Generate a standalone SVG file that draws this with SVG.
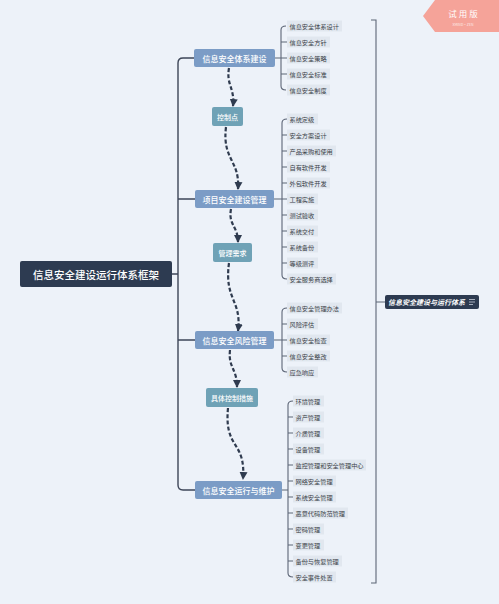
<svg xmlns="http://www.w3.org/2000/svg" width="499" height="604" viewBox="0 0 499 604">
<defs>
<marker id="ah" markerUnits="userSpaceOnUse" markerWidth="9" markerHeight="9" refX="7" refY="4.5" orient="auto">
<path d="M0,0.5 L8,4.5 L0,8.5 z" fill="#2f3b4f"/>
</marker>
<style>
text{font-family:"Noto Sans CJK SC","Noto Sans",sans-serif;}
.main rect{fill:#7b9cc6;}
.main text{fill:#fff;font-size:8px;font-weight:500;text-anchor:middle;dominant-baseline:central;}
.mid rect{fill:#6fa2b6;}
.mid text{fill:#fff;font-size:7px;font-weight:500;text-anchor:middle;dominant-baseline:central;}
.leaf rect{fill:#e1e7ef;}
.leaf text{fill:#3a3f48;font-size:6.2px;dominant-baseline:central;}
.ln{fill:none;stroke:#3d4658;stroke-width:1.4;}
.br{fill:none;stroke:#5d6677;stroke-width:1.1;}
.dash{fill:none;stroke:#2f3b4f;stroke-width:2.2;stroke-dasharray:4 2.2;marker-end:url(#ah);}
</style>
</defs>
<rect width="499" height="604" fill="#edf2f9"/>

<g id="connectors">
<path class="ln" d="M172,274 H178 M194,58 H183 Q178,58 178,63 V485 Q178,490 183,490 H195 M178,199 H195 M178,340 H195"/>
<path class="br" d="M275,58 H281 M286,26 Q281,26 281,30 V86 Q281,90 286,90 M281,42 H287 M281,58 H287 M281,74 H287"/>
<path class="br" d="M274,199 H282 M287,119 Q282,119 282,123 V275 Q282,279 287,279 M282,135 H287 M282,151 H287 M282,167 H287 M282,183 H287 M282,199 H287 M282,215 H287 M282,231 H287 M282,247 H287 M282,263 H287"/>
<path class="br" d="M274,340 H282 M287,308 Q282,308 282,312 V368 Q282,372 287,372 M282,324 H287 M282,340 H287 M282,356 H287"/>
<path class="br" d="M282,490 H288 M293,401 Q288,401 288,405 V573 Q288,577 293,577 M288,417 H293 M288,433 H293 M288,449 H293 M288,465 H293 M288,481 H293 M288,497 H293 M288,513 H293 M288,529 H293 M288,545 H293 M288,561 H293"/>
<path class="br" d="M371,20 H376 V583 H371 M376,302 H385" stroke-width="1.3"/>
<path class="dash" d="M229,68 C226,85 235,88 233,106"/>
<path class="dash" d="M226,127 C222,160 240,160 238,189"/>
<path class="dash" d="M231,209 C228,225 238,226 238,242"/>
<path class="dash" d="M229,263 C224,300 242,300 238,331"/>
<path class="dash" d="M230,350 C228,368 237,368 237,387"/>
<path class="dash" d="M228,408 C224,450 246,440 243,479"/>
</g>

<g id="root">
<rect x="20" y="261" width="152" height="26" rx="2" fill="#2d3b51"/>
<text x="96" y="274" fill="#fff" font-size="10.5" font-weight="500" text-anchor="middle" dominant-baseline="central">信息安全建设运行体系框架</text>
</g>

<g id="n1" class="main"><rect x="194" y="49" width="81" height="18" rx="2"/><text x="234.5" y="58">信息安全体系建设</text></g>
<g id="n2" class="main"><rect x="195" y="190" width="79" height="18" rx="2"/><text x="234.5" y="199">项目安全建设管理</text></g>
<g id="n3" class="main"><rect x="195" y="331" width="79" height="18" rx="2"/><text x="234.5" y="340">信息安全风险管理</text></g>
<g id="n4" class="main"><rect x="195" y="481" width="87" height="18" rx="2"/><text x="238.5" y="490">信息安全运行与维护</text></g>

<g id="m1" class="mid"><rect x="212" y="107" width="31" height="19" rx="2"/><text x="227.5" y="116.5">控制点</text></g>
<g id="m2" class="mid"><rect x="213" y="243" width="39" height="19" rx="2"/><text x="232.5" y="252.5">管理需求</text></g>
<g id="m3" class="mid"><rect x="206" y="388" width="52" height="19" rx="2"/><text x="232" y="397.5">具体控制措施</text></g>

<g id="g1" class="leaf">
<g id="l1a"><rect x="287" y="20.5" width="55" height="11"/><text x="289.5" y="26">信息安全体系设计</text></g>
<g id="l1b"><rect x="287" y="36.5" width="43" height="11"/><text x="289.5" y="42">信息安全方针</text></g>
<g id="l1c"><rect x="287" y="52.5" width="43" height="11"/><text x="289.5" y="58">信息安全策略</text></g>
<g id="l1d"><rect x="287" y="68.5" width="43" height="11"/><text x="289.5" y="74">信息安全标准</text></g>
<g id="l1e"><rect x="287" y="84.5" width="43" height="11"/><text x="289.5" y="90">信息安全制度</text></g>
</g>

<g id="g2" class="leaf">
<g id="l2a"><rect x="287" y="113.5" width="31" height="11"/><text x="289.5" y="119">系统定级</text></g>
<g id="l2b"><rect x="287" y="129.5" width="43" height="11"/><text x="289.5" y="135">安全方案设计</text></g>
<g id="l2c"><rect x="287" y="145.5" width="49" height="11"/><text x="289.5" y="151">产品采购和使用</text></g>
<g id="l2d"><rect x="287" y="161.5" width="43" height="11"/><text x="289.5" y="167">自有软件开发</text></g>
<g id="l2e"><rect x="287" y="177.5" width="43" height="11"/><text x="289.5" y="183">外包软件开发</text></g>
<g id="l2f"><rect x="287" y="193.5" width="31" height="11"/><text x="289.5" y="199">工程实施</text></g>
<g id="l2g"><rect x="287" y="209.5" width="31" height="11"/><text x="289.5" y="215">测试验收</text></g>
<g id="l2h"><rect x="287" y="225.5" width="31" height="11"/><text x="289.5" y="231">系统交付</text></g>
<g id="l2i"><rect x="287" y="241.5" width="31" height="11"/><text x="289.5" y="247">系统备份</text></g>
<g id="l2j"><rect x="287" y="257.5" width="31" height="11"/><text x="289.5" y="263">等级测评</text></g>
<g id="l2k"><rect x="287" y="273.5" width="49" height="11"/><text x="289.5" y="279">安全服务商选择</text></g>
</g>

<g id="g3" class="leaf">
<g id="l3a"><rect x="287" y="302.5" width="55" height="11"/><text x="289.5" y="308">信息安全管理办法</text></g>
<g id="l3b"><rect x="287" y="318.5" width="31" height="11"/><text x="289.5" y="324">风险评估</text></g>
<g id="l3c"><rect x="287" y="334.5" width="43" height="11"/><text x="289.5" y="340">信息安全检查</text></g>
<g id="l3d"><rect x="287" y="350.5" width="43" height="11"/><text x="289.5" y="356">信息安全整改</text></g>
<g id="l3e"><rect x="287" y="366.5" width="31" height="11"/><text x="289.5" y="372">应急响应</text></g>
</g>

<g id="g4" class="leaf">
<g id="l4a"><rect x="293" y="395.5" width="31" height="11"/><text x="295.5" y="401">环境管理</text></g>
<g id="l4b"><rect x="293" y="411.5" width="31" height="11"/><text x="295.5" y="417">资产管理</text></g>
<g id="l4c"><rect x="293" y="427.5" width="31" height="11"/><text x="295.5" y="433">介质管理</text></g>
<g id="l4d"><rect x="293" y="443.5" width="31" height="11"/><text x="295.5" y="449">设备管理</text></g>
<g id="l4e"><rect x="293" y="459.5" width="73" height="11"/><text x="295.5" y="465">监控管理和安全管理中心</text></g>
<g id="l4f"><rect x="293" y="475.5" width="43" height="11"/><text x="295.5" y="481">网络安全管理</text></g>
<g id="l4g"><rect x="293" y="491.5" width="43" height="11"/><text x="295.5" y="497">系统安全管理</text></g>
<g id="l4h"><rect x="293" y="507.5" width="55" height="11"/><text x="295.5" y="513">恶意代码防范管理</text></g>
<g id="l4i"><rect x="293" y="523.5" width="31" height="11"/><text x="295.5" y="529">密码管理</text></g>
<g id="l4j"><rect x="293" y="539.5" width="31" height="11"/><text x="295.5" y="545">变更管理</text></g>
<g id="l4k"><rect x="293" y="555.5" width="49" height="11"/><text x="295.5" y="561">备份与恢复管理</text></g>
<g id="l4l"><rect x="293" y="571.5" width="43" height="11"/><text x="295.5" y="577">安全事件处置</text></g>
</g>

<g id="summary">
<rect x="385" y="295" width="94" height="14" rx="2" fill="#2d3b51"/>
<text x="388" y="302" fill="#fff" font-size="7" font-weight="bold" font-style="italic" dominant-baseline="central">信息安全建设与运行体系</text>
<path d="M469,299.5 H475 M469,302 H475 M469,304.5 H473" stroke="#c5ccd8" stroke-width="0.8" fill="none"/>
</g>

<g id="badge">
<polygon points="435,0 499,0 499,32 435,32 423,16" fill="#f5a399"/>
<text x="464" y="13" fill="#fff" font-size="8.5" text-anchor="middle" dominant-baseline="central" letter-spacing="2">试用版</text>
<text x="463" y="24" fill="#fff" fill-opacity="0.8" font-size="3.5" text-anchor="middle" dominant-baseline="central" font-family="Liberation Sans, sans-serif">XMIND·ZEN</text>
</g>
</svg>
